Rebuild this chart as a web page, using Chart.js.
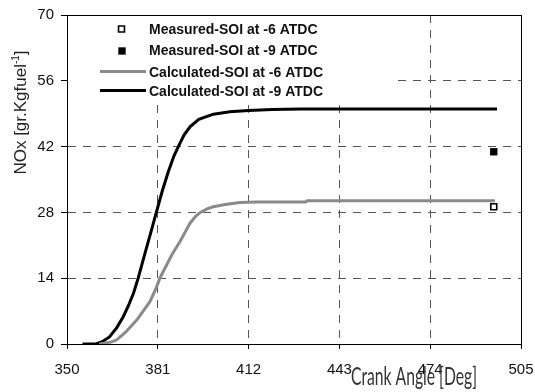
<!DOCTYPE html>
<html>
<head>
<meta charset="utf-8">
<script src="https://cdn.jsdelivr.net/npm/chart.js@4.4.1/dist/chart.umd.min.js"></script>
<style>
  html, body { margin: 0; padding: 0; background: #fff; }
  #wrap { width: 535px; height: 392px; }
</style>
</head>
<body>
<div id="wrap"><canvas id="noxChart" width="535" height="392"></canvas></div>
<script>
// Ticks
var xTicks = [350, 381, 412, 443, 474, 505];
var yTicks = [0, 14, 28, 42, 56, 70];

// Calculated NOx, SOI at -9 ATDC (black)
var calcAngle9 = [355.3, 360, 362, 364.5, 367, 369.2, 371, 372.7, 374.3, 376.5, 378.5, 380.5, 382.5, 384.5, 386.5, 388, 390, 392, 395, 400, 405.6, 412, 420, 430, 496.8];
var calcNox9 = [0, 0, 0.5, 1.5, 3.5, 5.8, 8.2, 10.8, 14, 19, 23.5, 28, 32.5, 36.5, 40, 42, 44.5, 46.2, 47.8, 48.9, 49.4, 49.7, 49.9, 50, 50];

// Calculated NOx, SOI at -6 ATDC (grey)
var calcAngle6 = [361, 365, 367, 370, 373.8, 376, 378.3, 380.5, 381.7, 384, 386, 388.6, 390.5, 392, 394, 395.5, 398, 400, 404, 409, 415, 422.7, 431.5, 432, 496.1];
var calcNox6 = [0, 0.4, 0.9, 2.5, 5.1, 7, 9, 12, 14, 16.8, 19.2, 21.8, 24, 25.7, 27.2, 28, 28.8, 29.2, 29.7, 30.1, 30.2, 30.2, 30.2, 30.5, 30.5];

// Measured values at the end of the cycle
var measAngle = [495.7];
var measNox6 = [29.2];
var measNox9 = [40.9];

var seriesNames = [
    'Measured-SOI at -6 ATDC',
    'Measured-SOI at -9 ATDC',
    'Calculated-SOI at -6 ATDC',
    'Calculated-SOI at -9 ATDC'
];

function toPoints(xs, ys) {
    return xs.map(function (x, i) { return { x: x, y: ys[i] }; });
}

// frame, white legend box, legend and axis titles
var decorations = {
    id: 'decorations',
    beforeDatasetsDraw: function (chart) {
        var ctx = chart.ctx;
        ctx.save();
        ctx.fillStyle = '#fff';
        ctx.fillRect(68, 16, 325, 83);
        ctx.restore();
    },
    afterDraw: function (chart) {
        var ctx = chart.ctx, a = chart.chartArea, ds = chart.data.datasets;
        ctx.save();

        // solid box round the plot
        var l = Math.round(a.left) + 0.5, r = Math.round(a.right) + 0.5;
        var t = Math.round(a.top) + 0.5, b = Math.round(a.bottom) + 0.5;
        ctx.strokeStyle = '#000';
        ctx.lineWidth = 1;
        ctx.setLineDash([]);
        ctx.strokeRect(l, t, r - l, b - t);

        // legend
        ctx.font = 'bold 14px "Liberation Sans", Arial, sans-serif';
        ctx.textBaseline = 'alphabetic';
        ctx.textAlign = 'left';
        var rows = [33.5, 55, 77, 95.5];
        for (var i = 0; i < 4; i++) {
            ctx.fillStyle = '#111';
            ctx.fillText(seriesNames[i], 149, rows[i]);
        }
        // marker rows
        var marks = [[121.5, 29], [122, 51]];
        for (var m = 0; m < 2; m++) {
            var d = ds[m];
            ctx.fillStyle = d.backgroundColor;
            ctx.strokeStyle = d.borderColor;
            ctx.lineWidth = d.borderWidth;
            Chart.helpers.drawPoint(ctx, {
                pointStyle: d.pointStyle, radius: d.pointRadius, rotation: 0, borderWidth: d.borderWidth
            }, marks[m][0], marks[m][1]);
        }
        // line rows
        var lines = [71.5, 90.5];
        for (var k = 0; k < 2; k++) {
            var dl = ds[k + 2];
            ctx.strokeStyle = dl.borderColor;
            ctx.lineWidth = dl.borderWidth;
            ctx.beginPath();
            ctx.moveTo(100, lines[k]);
            ctx.lineTo(146, lines[k]);
            ctx.stroke();
        }

        // y title with superscript
        ctx.fillStyle = '#222';
        ctx.translate(26, 112.5);
        ctx.rotate(-Math.PI / 2);
        var main = 'NOx [gr.Kgfuel', sup = '-1', end = ']';
        var fMain = '17px "Liberation Sans", Arial, sans-serif';
        var fSup = '10px "Liberation Sans", Arial, sans-serif';
        ctx.font = fMain;
        var w1 = ctx.measureText(main).width, w3 = ctx.measureText(end).width;
        ctx.font = fSup;
        var w2 = ctx.measureText(sup).width;
        var x0 = -(w1 + w2 + w3) / 2;
        ctx.font = fMain;
        ctx.fillText(main, x0, 0);
        ctx.font = fSup;
        ctx.fillText(sup, x0 + w1, -7);
        ctx.font = fMain;
        ctx.fillText(end, x0 + w1 + w2, 0);
        ctx.restore();

        // x title, tall narrow lettering
        ctx.save();
        ctx.fillStyle = '#333';
        ctx.font = '16px Lato, "Open Sans", sans-serif';
        ctx.textAlign = 'center';
        ctx.textBaseline = 'alphabetic';
        var xt = 'Crank Angle [Deg]';
        var tw = ctx.measureText(xt).width;
        ctx.translate(414, 385);
        ctx.scale(126 / tw, 1.55);
        ctx.fillText(xt, 0, 0);
        ctx.restore();
    }
};

var tickFont = { family: '"Liberation Sans", Arial, sans-serif', size: 15 };

var ctx = document.getElementById('noxChart').getContext('2d');
var noxChart = new Chart(ctx, {
    type: 'scatter',
    data: {
        datasets: [{
            label: seriesNames[0],
            data: toPoints(measAngle, measNox6),
            pointStyle: 'rect',
            pointRadius: 4.2,
            backgroundColor: '#fff',
            borderColor: '#000',
            borderWidth: 1.6,
            showLine: false
        }, {
            label: seriesNames[1],
            data: toPoints(measAngle, measNox9),
            pointStyle: 'rect',
            pointRadius: 5.2,
            backgroundColor: '#000',
            borderColor: '#000',
            borderWidth: 0,
            showLine: false
        }, {
            label: seriesNames[2],
            data: toPoints(calcAngle6, calcNox6),
            showLine: true,
            borderColor: '#8a8a8a',
            backgroundColor: '#8a8a8a',
            borderWidth: 3,
            pointRadius: 0,
            tension: 0
        }, {
            label: seriesNames[3],
            data: toPoints(calcAngle9, calcNox9),
            showLine: true,
            borderColor: '#000',
            backgroundColor: '#000',
            borderWidth: 3,
            pointRadius: 0,
            tension: 0
        }]
    },
    options: {
        responsive: false,
        devicePixelRatio: 1,
        animation: false,
        layout: { padding: { left: 0, right: 14, top: 15, bottom: 0 } },
        plugins: {
            legend: { display: false },
            tooltip: { enabled: false }
        },
        scales: {
            x: {
                type: 'linear',
                min: 350,
                max: 505,
                afterBuildTicks: function (s) { s.ticks = xTicks.map(function (v) { return { value: v }; }); },
                afterFit: function (s) {
                    s.height = 48;
                    // the end labels fit in the page margins, no extra room needed
                    s.paddingLeft = 0;
                    s.paddingRight = 0;
                },
                ticks: { font: tickFont, color: '#111', padding: 12, maxRotation: 0, autoSkip: false },
                grid: {
                    color: '#555',
                    lineWidth: 1,
                    tickColor: '#000',
                    tickBorderDash: [],
                    tickLength: 5
                },
                // in v4 the grid-line dash lives on the border options
                border: { color: '#000', width: 1, dash: [8, 7] }
            },
            y: {
                min: 0,
                max: 70,
                afterBuildTicks: function (s) { s.ticks = yTicks.map(function (v) { return { value: v }; }); },
                afterFit: function (s) {
                    s.width = 67;
                    s.paddingTop = 0;
                    s.paddingBottom = 0;
                },
                ticks: { font: tickFont, color: '#111', padding: 7 },
                grid: {
                    color: '#555',
                    lineWidth: 1,
                    tickColor: '#000',
                    tickBorderDash: [],
                    tickLength: 6
                },
                border: { color: '#000', width: 1, dash: [8, 7] }
            }
        }
    },
    plugins: [decorations]
});
</script>
</body>
</html>
